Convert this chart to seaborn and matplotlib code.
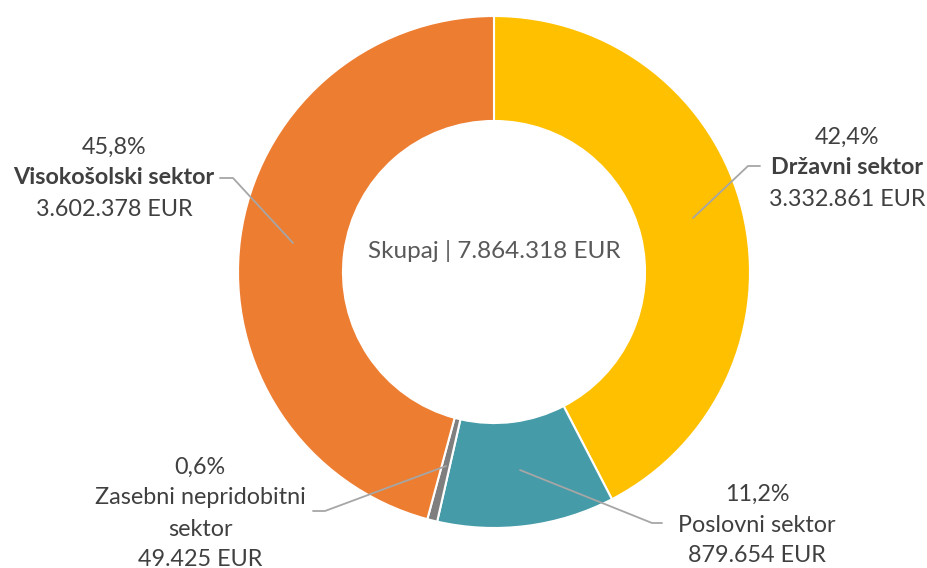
import matplotlib
matplotlib.use("Agg")
import matplotlib.pyplot as plt
import seaborn as sns

sectors = ["Državni sektor", "Poslovni sektor", "Zasebni nepridobitni\nsektor", "Visokošolski sektor"]
amounts = [3332861, 879654, 49425, 3602378]
shares = ["42,4%", "11,2%", "0,6%", "45,8%"]
amount_labels = ["3.332.861 EUR", "879.654 EUR", "49.425 EUR", "3.602.378 EUR"]
total_label = "Skupaj | 7.864.318 EUR"
colors = ["#FFC000", "#459BA8", "#7F7F7F", "#ED7D31"]

sns.set_theme(style="white")
plt.rcParams["font.family"] = ["Lato", "DejaVu Sans"]

W, H = 928, 568
cx, cy, R = 494, 272, 256

fig = plt.figure(figsize=(W / 100, H / 100), dpi=100)
ax = fig.add_axes([(cx - R) / W, (H - cy - R) / H, 2 * R / W, 2 * R / H])

ax.pie(amounts, colors=colors, startangle=90, counterclock=False, radius=1.0,
       wedgeprops=dict(width=0.41, edgecolor="white", linewidth=1.5))
ax.set_xlim(-1, 1)
ax.set_ylim(-1, 1)
ax.set_aspect("auto")
ax.axis("off")


def to_data(px, py):
    return (px - cx) / R, (cy - py) / R


text_col = "#404040"
line_col = "#A6A6A6"

# label blocks: (center x px, y px of first line)
label_pos = [(847, 137), (757, 494), (200, 467), (114, 147)]
leaders = [
    [(693, 218), (748, 166), (760, 166)],
    [(520, 470), (652, 523), (662, 523)],
    [(446, 466), (325, 511), (313, 511)],
    [(293, 243), (233, 178), (220, 178)],
]
step = 31

for i in range(len(sectors)):
    lx, ly = label_pos[i]
    name_lines = sectors[i].split("\n")
    bold = i in (0, 3)
    lines = [(shares[i], "normal")] + [(n, "bold" if bold else "normal") for n in name_lines] + [(amount_labels[i], "normal")]
    for k, (txt, wt) in enumerate(lines):
        x, y = to_data(lx, ly + k * step)
        ax.text(x, y, txt, ha="center", va="center", fontsize=16.8,
                fontweight=wt, color=text_col, clip_on=False)
    pts = [to_data(px, py) for px, py in leaders[i]]
    ax.plot([p[0] for p in pts], [p[1] for p in pts], color=line_col,
            linewidth=1.3, clip_on=False)

x, y = to_data(494, 251)
ax.text(x, y, total_label, ha="center", va="center", fontsize=17.5, color="#595959")

fig.savefig("out.png", dpi=100)
